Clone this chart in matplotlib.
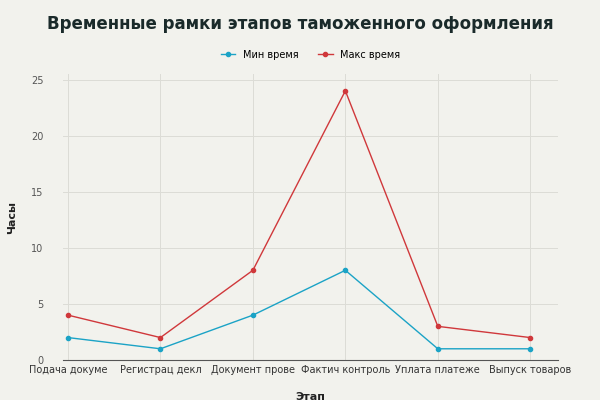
import matplotlib
matplotlib.use("Agg")
import matplotlib.pyplot as plt

categories = ["Подача докуме", "Регистрац декл", "Документ прове", "Фактич контроль", "Уплата платеже", "Выпуск товаров"]
min_time = [2, 1, 4, 8, 1, 1]
max_time = [4, 2, 8, 24, 3, 2]

bg = "#f2f2ed"
fig = plt.figure(figsize=(6, 4), dpi=100, facecolor=bg)
ax = fig.add_axes([0.105, 0.1, 0.825, 0.715], facecolor=bg)
x = range(len(categories))
ax.plot(x, min_time, color="#1ba3c6", marker="o", markersize=3, linewidth=1, label="Мин время")
ax.plot(x, max_time, color="#d0383b", marker="o", markersize=3, linewidth=1, label="Макс время")
ax.set_xticks(list(x))
ax.set_xticklabels(categories, fontsize=7, color="#333333")
ax.set_yticks([0, 5, 10, 15, 20, 25])
ax.tick_params(axis="y", labelsize=7, colors="#555555", length=0, pad=14)
ax.tick_params(axis="x", length=0)
ax.set_xlim(-0.054, 5.3)
ax.set_ylim(0, 25.5)
ax.grid(True, color="#dcdcd6", linewidth=0.7)
for s in ["top", "right", "left"]:
    ax.spines[s].set_visible(False)
ax.spines["bottom"].set_color("#555555")
ax.set_xlabel("Этап", fontsize=8, fontweight="bold", color="#222222", labelpad=12)
ax.set_ylabel("Часы", fontsize=8, fontweight="bold", color="#222222", labelpad=10)
fig.text(0.5, 0.94, "Временные рамки этапов таможенного оформления", ha="center", va="center",
         fontsize=12, fontweight="heavy", color="#1a2a2a")
ax.legend(loc="lower center", bbox_to_anchor=(0.5, 1.02), ncol=2, frameon=False, fontsize=7,
          handlelength=1.5)
fig.savefig("out.png", facecolor=bg)
